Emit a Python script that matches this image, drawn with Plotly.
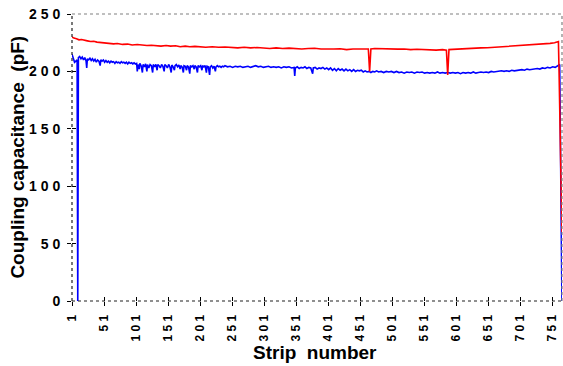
import plotly.graph_objects as go

# ---- data ----
red_strip = [1, 4, 8, 12, 16, 20, 25, 30, 35, 40, 45, 50, 55, 60, 66, 72, 80, 88, 95, 103, 110, 118,
             125, 133, 140, 148, 155, 163, 170, 178, 185, 193, 200, 210, 220, 230, 240, 250, 260, 270,
             280, 290, 300, 310, 320, 330, 340, 350, 360, 370, 380, 390, 400, 410, 420, 430, 440, 450,
             458, 464, 466, 468, 474, 480, 490, 500, 510, 520, 530, 540, 550, 560, 570, 580, 586, 588,
             590, 596, 604, 612, 620, 630, 640, 650, 660, 670, 680, 690, 700, 710, 720, 730, 740, 748,
             755, 761, 762, 764, 766.5]
red_val = [230, 229, 228.5, 227.5, 227.8, 227, 226.6, 226, 226.3, 225.5, 225.2, 225, 224.6, 224.8, 224,
           224.3, 223.5, 223.8, 223, 223.4, 223, 222.5, 222.8, 222.4, 222, 222.5, 222, 222.3, 221.5,
           222, 221.5, 221.8, 221.5, 221, 221.5, 221, 221.3, 221, 220.5, 221, 220.5, 220.8, 220.5,
           220, 220.5, 220, 220.3, 220, 219.5, 220, 220.2, 219.5, 219.8, 219.5, 219.7, 219, 219.5,
           219.7, 219.5, 219.5, 200, 219.5, 220, 219.8, 219.5, 219.7, 219.4, 219.5, 219, 219.3, 219,
           219.2, 218.5, 219, 218.5, 197, 219, 219.2, 219.5, 219.4, 220, 220.2, 220.5, 220.6, 221,
           221.1, 221.5, 221.7, 222, 222.5, 223, 223.3, 224, 224.4, 225, 226, 200, 130, 60]

blue_strip = [1, 3, 5, 7, 9, 10, 11, 13, 15, 17, 19, 21, 23, 24, 25, 27, 29, 31, 33, 35, 37, 39, 41,
              43, 45, 46, 48, 50, 52, 54, 56, 58, 60, 62, 64, 66, 68, 70, 72, 74, 76, 78, 80, 82, 84,
              86, 88, 90, 92, 94, 96, 98, 100, 102, 103, 104, 106, 107, 109, 111, 112, 114, 116, 118,
              119, 121, 123, 125, 127, 128, 130, 132, 134, 135, 137, 139, 141, 143, 145, 146, 148,
              150, 152, 154, 156, 157, 159, 161, 162, 164, 166, 168, 170, 171, 173, 175, 176, 178,
              180, 181, 183, 185, 186, 188, 190, 192, 193, 195, 197, 198, 200, 202, 204, 205, 207,
              209, 211, 212, 214, 216, 217, 219, 221, 223, 225, 226, 228, 230, 232, 234, 236, 238,
              240, 244, 248, 252, 256, 260, 264, 268, 272, 276, 280, 284, 288, 292, 296, 300, 304,
              308, 312, 316, 320, 324, 328, 332, 336, 340, 344, 348, 349, 350, 353, 356, 359, 362,
              365, 368, 371, 374, 377, 378, 381, 384, 387, 390, 393, 396, 399, 402, 405, 408, 411,
              414, 417, 420, 423, 426, 429, 432, 435, 438, 441, 444, 447, 450, 453, 456, 459, 462,
              465, 468, 471, 474, 477, 480, 484, 488, 492, 496, 500, 504, 508, 512, 516, 520, 524,
              528, 532, 536, 540, 544, 548, 552, 556, 560, 564, 568, 572, 576, 580, 584, 588, 592,
              596, 600, 604, 608, 612, 616, 620, 624, 628, 632, 636, 640, 644, 648, 652, 656, 660,
              664, 668, 672, 676, 680, 684, 688, 692, 696, 700, 704, 708, 712, 716, 720, 724, 728,
              732, 736, 740, 744, 748, 752, 756, 759, 762, 763, 766.5]
blue_val = [215, 212, 208, 209, 210, 0, 212, 213, 211, 212.5, 210, 212, 209, 203, 211, 210, 211.5,
            209.5, 211, 209, 210.5, 208, 210, 209, 205, 210, 209, 210, 208, 209.5, 208, 209, 207.5,
            209, 208, 208.5, 207, 208.5, 207.5, 208, 207, 208.5, 207.5, 208, 207, 208, 206.5, 208,
            207, 207.5, 206.5, 207.5, 206.5, 207, 200, 206, 202, 207, 205, 199, 206, 204, 206.5,
            200, 206, 203, 206, 205, 199, 206, 204, 206, 201, 206, 205, 203, 206, 204.5, 200, 206,
            205, 203, 206, 204, 199, 205.5, 204, 201, 205, 206, 204, 205.5, 202, 205, 204, 199,
            205, 204.5, 201, 205, 204, 198, 205, 204, 205, 202, 205, 204, 199, 205, 204, 205, 201,
            205, 204, 205, 199, 204.5, 204, 197, 204, 205, 203, 204.5, 200, 204, 205, 204, 204.5,
            203.5, 204.5, 204, 205, 204, 204.5, 203.5, 204.5, 204, 204.5, 203.5, 204, 204.5, 203.5,
            204, 205, 204, 204.5, 203.5, 204, 204.5, 203.5, 204, 203.5, 204, 203, 204, 203.5, 204,
            203, 203.5, 196, 203, 204, 202.5, 203.5, 203, 204, 202.5, 203.5, 203, 198, 203, 203.5,
            202, 203, 202.5, 203.5, 202, 203, 201.5, 203, 201, 202.5, 200.5, 202.5, 201, 202, 200.5,
            202, 200.5, 201.5, 200, 201.5, 200, 201, 200.5, 201, 199.5, 200.5, 199.5, 200, 199, 200,
            199.5, 200.5, 199.5, 200, 199, 200, 199.5, 200, 199, 200, 199, 199.5, 198.5, 199.5, 199,
            199.5, 198.5, 199.5, 199, 199.5, 198.5, 199, 198.5, 199, 198.5, 199.5, 198.5, 199, 198.5,
            199, 198.5, 199, 198.5, 199, 198, 199, 198.5, 199, 198.5, 199.5, 198.5, 199, 199.5, 199,
            199.5, 199, 200, 199.5, 200, 200, 200.5, 200, 200.5, 200, 201, 200.5, 201, 201, 201.5,
            201, 202, 201.5, 202, 202, 202.5, 202, 203, 202.5, 203.5, 203, 204, 203.5, 204.5, 205,
            206, 0]

x_ticks = [1, 51, 101, 151, 201, 251, 301, 351, 401, 451, 501, 551, 601, 651, 701, 751]
x_labels = [" ".join(str(v)) for v in x_ticks]
y_ticks = [0, 50, 100, 150, 200, 250]
y_labels = ["0", "5 0", "1 0 0", "1 5 0", "2 0 0", "2 5 0"]

FONT = "Arial, 'Liberation Sans', sans-serif"

fig = go.Figure()
fig.add_trace(go.Scatter(x=blue_strip, y=blue_val, mode="lines",
                         line=dict(color="#0000FF", width=1.6), showlegend=False))
fig.add_trace(go.Scatter(x=red_strip, y=red_val, mode="lines",
                         line=dict(color="#FF0000", width=1.6), showlegend=False))
# invisible trace on overlay axes used for inside ticks
fig.add_trace(go.Scatter(x=[1], y=[0], xaxis="x2", yaxis="y2", mode="markers",
                         marker=dict(opacity=0), showlegend=False, hoverinfo="skip"))

fig.update_layout(
    width=563, height=366,
    margin=dict(l=72, r=1, t=14, b=65),
    paper_bgcolor="white", plot_bgcolor="white",
    font=dict(family=FONT, color="black"),
    xaxis=dict(range=[1, 766.6], tickvals=x_ticks, ticktext=x_labels,
               tickangle=-90, ticks="outside", ticklen=4, tickcolor="black", tickwidth=1,
               tickfont=dict(size=12, family=FONT, weight="bold"),
               showgrid=False, zeroline=False, showline=False, ticklabelstandoff=4),
    yaxis=dict(range=[0, 250], tickvals=y_ticks, ticktext=y_labels,
               ticks="outside", ticklen=4, tickcolor="black", tickwidth=1,
               tickfont=dict(size=14, family=FONT, weight="bold"),
               showgrid=False, zeroline=False, showline=False, ticklabelstandoff=4),
    xaxis2=dict(range=[1, 766.6], overlaying="x", tickvals=x_ticks, showticklabels=False,
                ticks="inside", ticklen=4, tickcolor="black", showgrid=False, zeroline=False,
                showline=False, anchor="y2"),
    yaxis2=dict(range=[0, 250], overlaying="y", tickvals=y_ticks, showticklabels=False,
                ticks="inside", ticklen=4, tickcolor="black", showgrid=False, zeroline=False,
                showline=False, anchor="x2"),
    shapes=[
        dict(type="line", xref="x domain", yref="y domain", x0=0, x1=1, y0=1, y1=1,
             line=dict(color="#808080", width=1.2, dash="dot")),
        dict(type="line", xref="x domain", yref="y domain", x0=1, x1=1, y0=0, y1=1,
             line=dict(color="#808080", width=1.2, dash="dot")),
        dict(type="line", xref="x domain", yref="y domain", x0=0, x1=1, y0=0, y1=0,
             line=dict(color="#202020", width=1.2, dash="dot")),
        dict(type="line", xref="x domain", yref="y domain", x0=0, x1=0, y0=0, y1=1,
             line=dict(color="#202020", width=1.2, dash="dot")),
    ],
    annotations=[
        dict(text="<b>Strip  number</b>", xref="paper", yref="paper", x=0.496, y=-0.178,
             xanchor="center", yanchor="middle", showarrow=False,
             font=dict(size=19, family=FONT, color="black")),
        dict(text="<b>Coupling capacitance  (pF)</b>", xref="paper", yref="paper",
             x=-0.112, y=0.5, xanchor="center", yanchor="middle", textangle=-90,
             showarrow=False, font=dict(size=19, family=FONT, color="black")),
    ],
)

fig.write_html("out.html")
